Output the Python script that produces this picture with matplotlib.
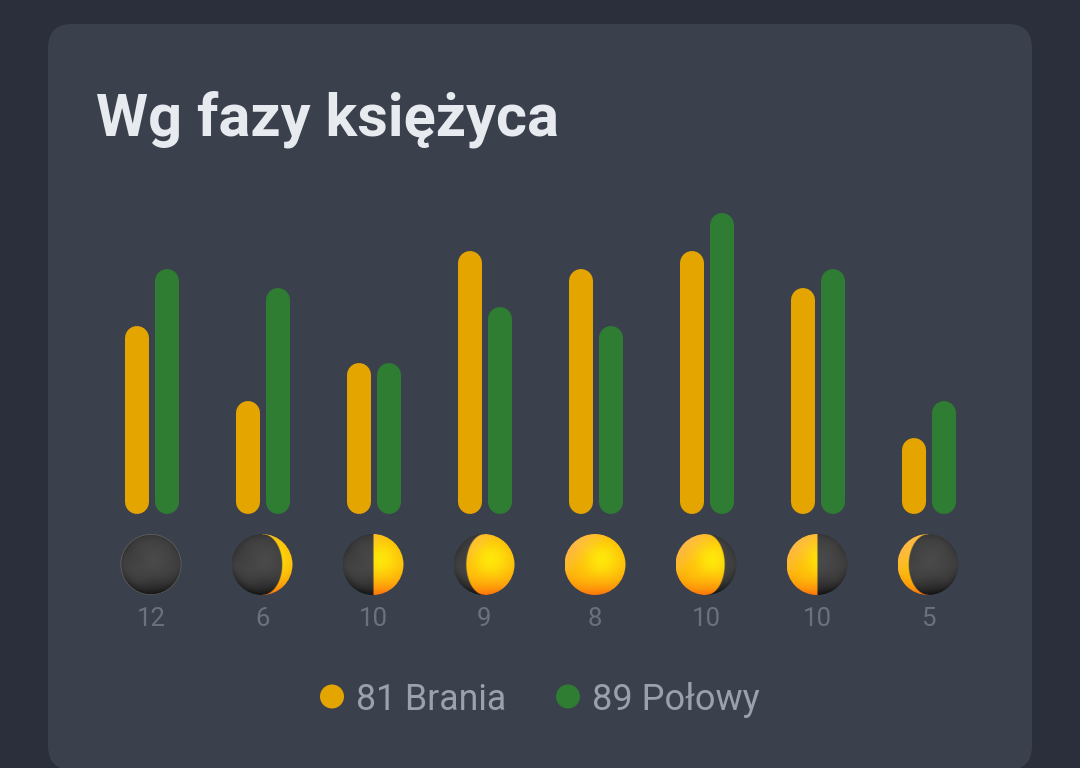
import matplotlib
matplotlib.use('Agg')
import matplotlib.pyplot as plt
import numpy as np
from matplotlib.patches import Circle, FancyBboxPatch

# ---------- DATA ----------
title = 'Wg fazy księżyca'
brania = [10, 6, 8, 14, 13, 14, 12, 4]
polowy = [13, 12, 8, 11, 10, 16, 13, 6]
counts = ['12', '6', '10', '9', '8', '10', '10', '5']
legend_labels = ['81 Brania', '89 Połowy']

# moon phases: lit side and where the shadow edge sits (-1..1)
lit_side = ['none', 'right', 'right', 'right', 'full', 'left', 'left', 'left']
edge_pos = [0, 0.65, 0, -0.6, 0, 0.6, 0, -0.65]

bg_color = '#2a2f3b'
card_color = '#3a404c'
orange = '#e5a500'
green = '#2e7d32'

W, H = 1080, 768
step_x = 111.0      # pixels between groups
step_y = 18.78      # pixels per unit
base_x = 152.0
base_y = 513.5
bar_w = 24.0
gap = 15.0

plt.rcParams['font.family'] = ['Roboto', 'DejaVu Sans']
fig = plt.figure(figsize=(W / 100, H / 100), dpi=100, facecolor=bg_color)

# ---------- CARD, pixel coordinates ----------
bg = fig.add_axes([0, 0, 1, 1])
bg.set_xlim(0, W)
bg.set_ylim(H, 0)
bg.axis('off')
bg.add_patch(FancyBboxPatch((48, 24), 984, 746, boxstyle='round,pad=0,rounding_size=24',
                            fc=card_color, ec='none'))
bg.text(96.5, 119, title, color='#e7eaef', fontsize=42.8, fontweight='bold', va='center', ha='left')


def moon_image(side, k, n=180):
    # shaded sphere, lit part yellow/orange and dark part grey
    yy, xx = np.mgrid[-1:1:n * 1j, -1:1:n * 1j]
    r2 = np.clip(xx ** 2 + yy ** 2, 0, 1)
    blotch = (np.sin(5 * xx + 1.3) * np.cos(4 * yy + 0.4) + np.sin(6 * xx * yy + 2)) / 2

    dark = 68 - 36 * np.clip(yy, 0, 1) ** 2 - 14 * r2 ** 3 + 6 * blotch
    dark_rgb = np.dstack([dark, dark, dark + 1])

    t = np.clip((yy + 1) / 2, 0, 1)
    glow = np.exp(-((xx - 0.25) ** 2 + (yy + 0.15) ** 2) * 2.5)
    red = 255 - 2 * r2
    grn = 190 + 38 * glow - 70 * t ** 5 - 6 * r2 ** 2 + 5 * blotch
    blu = 10 + 60 * np.clip(-xx - yy - 0.4, 0, 1)
    lit_rgb = np.dstack([red, grn, blu])

    edge = k * np.sqrt(1 - np.clip(yy ** 2, 0, 1))
    if side == 'none':
        lit = np.zeros_like(xx)
    elif side == 'full':
        lit = np.ones_like(xx)
    elif side == 'right':
        lit = np.clip((xx - edge) * 40 + 0.5, 0, 1)
    else:
        lit = np.clip((edge - xx) * 40 + 0.5, 0, 1)
    img = dark_rgb * (1 - lit[..., None]) + lit_rgb * lit[..., None]
    return np.clip(img, 0, 255).astype(np.uint8)


for i in range(len(counts)):
    cx = 151 + step_x * i
    im = bg.imshow(moon_image(lit_side[i], edge_pos[i]), extent=(cx - 30.5, cx + 30.5, 564.5 + 30.5, 564.5 - 30.5),
                   zorder=3, interpolation='bilinear')
    im.set_clip_path(Circle((cx, 564.5), 30.5, transform=bg.transData))
    bg.add_patch(Circle((cx, 564.5), 30.2, fc='none', ec='#666666' if lit_side[i] == 'none' else 'none', lw=0.5, zorder=4))
    bg.text(cx + 0.1, 619.5, counts[i], color='#6b727e', fontsize=18.5, ha='center', va='center', zorder=4)

bg.set_xlim(0, W)
bg.set_ylim(H, 0)
bg.set_aspect('auto')

# legend
bg.scatter([332, 568], [696.5, 696.5], s=(24 * 0.72) ** 2, c=[orange, green], linewidths=0, zorder=4)
bg.text(356.5, 699.5, legend_labels[0], color='#9aa1ad', fontsize=25.7, ha='left', va='center')
bg.text(592.5, 699.5, legend_labels[1], color='#9aa1ad', fontsize=26, ha='left', va='center')

# ---------- BARS ----------
ax = fig.add_axes([0, 0, 1, 1], facecolor='none')
ax.set_xlim(-base_x / step_x, (W - base_x) / step_x)
ax.set_ylim(-(H - base_y) / step_y, base_y / step_y)
ax.axis('off')

lw = bar_w * 0.72
cap = bar_w / 2 / step_y
off = gap / step_x
for i in range(len(brania)):
    ax.plot([i - off, i - off], [cap, brania[i] - cap], color=orange, lw=lw, solid_capstyle='round')
    ax.plot([i + off, i + off], [cap, polowy[i] - cap], color=green, lw=lw, solid_capstyle='round')

fig.savefig('out.png', dpi=100, facecolor=bg_color)
